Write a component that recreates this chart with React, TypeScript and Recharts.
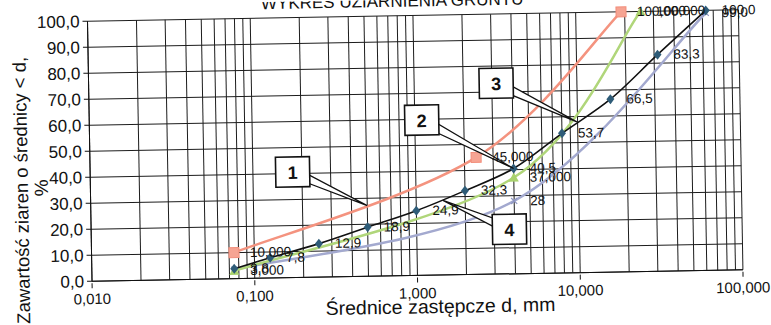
import React from 'react';
import { LineChart, Line, XAxis, YAxis, CartesianGrid, LabelList, ReferenceDot } from 'recharts';

// sieve sizes (mm) and passing (%)
const redSizes = [0.075, 2.36, 19];
const redPass = [10, 45, 100];
const redLabels = ['10,000', '45,000', '100,000'];

const greenSizes = [0.075, 4, 25];
const greenPass = [3, 37, 100];
const greenLabels = ['3,000', '37,000', '100,000'];

const blackSizes = [0.075, 0.125, 0.25, 0.5, 1, 2, 4, 8, 16, 31.5, 63];
const blackPass = [3.8, 7.8, 12.9, 18.9, 24.9, 32.3, 40.5, 53.7, 66.5, 83.3, 100];

const lavSizes = [0.075, 4, 63];
const lavPass = [3.5, 28, 99];
const lavLabels = ['', '28', '99,0'];

const xTicks = [
  0.01, 0.02, 0.03, 0.04, 0.05, 0.06, 0.07, 0.08, 0.09,
  0.1, 0.2, 0.3, 0.4, 0.5, 0.6, 0.7, 0.8, 0.9,
  1, 2, 3, 4, 5, 6, 7, 8, 9,
  10, 20, 30, 40, 50, 60, 70, 80, 90, 100,
];
const xDecades = [0.01, 0.1, 1, 10, 100];
const xDecadeLabels = ['0,010', '0,100', '1,000', '10,000', '100,000'];
const yTicks = [0, 10, 20, 30, 40, 50, 60, 70, 80, 90, 100];

// callouts: number, target point (mm, %)
const calloutNums = ['1', '2', '3', '4'];
const calloutSizes = [0.5, 4, 9.9, 1.46];
const calloutPass = [27.2, 40.5, 58, 28.7];
const calloutOffsets = [[-74, -35], [-91, -50], [-80, -40], [66, 30]];

const FONT = '"Liberation Sans", Arial, sans-serif';

const mk = (s: number[], p: number[], l: string[]) => s.map((d, i) => ({ d, v: p[i], label: l[i] }));
const redData = mk(redSizes, redPass, redLabels);
const greenData = mk(greenSizes, greenPass, greenLabels);
const blackData = mk(blackSizes, blackPass, blackPass.map((v) => v.toFixed(1).replace('.', ',')));
const lavData = mk(lavSizes, lavPass, lavLabels);

// Excel-like smoothed line (Catmull-Rom style bezier)
function excelSmooth(context: any) {
  let pts: number[][] = [];
  return {
    areaStart() {},
    areaEnd() {},
    lineStart() {
      pts = [];
    },
    point(x: number, y: number) {
      pts.push([+x, +y]);
    },
    lineEnd() {
      const n = pts.length;
      if (!n) return;
      context.moveTo(pts[0][0], pts[0][1]);
      for (let i = 0; i < n - 1; i++) {
        const a = pts[Math.max(i - 1, 0)];
        const p0 = pts[i];
        const p1 = pts[i + 1];
        const b = pts[Math.min(i + 2, n - 1)];
        context.bezierCurveTo(
          p0[0] + (p1[0] - a[0]) / 6,
          p0[1] + (p1[1] - a[1]) / 6,
          p1[0] - (b[0] - p0[0]) / 6,
          p1[1] - (b[1] - p0[1]) / 6,
          p1[0],
          p1[1],
        );
      }
    },
  };
}

function XTick(props: any) {
  const { x, y, payload } = props;
  const i = xDecades.indexOf(payload.value);
  if (i < 0) return <g />;
  return (
    <g>
      <line x1={x} x2={x} y1={y} y2={y + 5} stroke="#111" />
      <text x={x} y={y + 21} textAnchor="middle" fontSize={15} fill="#111" fontFamily={FONT}>
        {xDecadeLabels[i]}
      </text>
    </g>
  );
}

const pointLabel = (p: any) =>
  p.value ? (
    <text x={p.x + 16} y={p.y} dominantBaseline="central" fontSize={13.5} fill="#111" fontFamily={FONT}>
      {p.value}
    </text>
  ) : null;

const squareDot = (p: any) => (
  <rect key={p.key} x={p.cx - 5} y={p.cy - 5} width={10} height={10} fill="#f6a493" stroke="#f28e7b" />
);
const triDot = (p: any) => (
  <polygon key={p.key} points={`${p.cx},${p.cy - 5} ${p.cx + 5},${p.cy + 4} ${p.cx - 5},${p.cy + 4}`} fill="#a9d26e" />
);
const diamondDot = (p: any) => (
  <polygon key={p.key} points={`${p.cx},${p.cy - 5} ${p.cx + 4},${p.cy} ${p.cx},${p.cy + 5} ${p.cx - 4},${p.cy}`} fill="#2e5c78" />
);
const crossDot = (p: any) => (
  <path key={p.key} d={`M${p.cx - 3},${p.cy - 3}L${p.cx + 3},${p.cy + 3}M${p.cx + 3},${p.cy - 3}L${p.cx - 3},${p.cy + 3}`} stroke="#8d94c0" strokeWidth={1.2} />
);

function Callout(p: any) {
  const { cx, cy, off, n } = p;
  const bx = cx + off[0];
  const by = cy + off[1];
  const ang = Math.atan2(cy - by, cx - bx);
  const px = -Math.sin(ang) * 5;
  const py = Math.cos(ang) * 5;
  return (
    <g>
      <polygon points={`${cx},${cy} ${bx + px},${by + py} ${bx - px},${by - py}`} fill="#fff" stroke="#111" strokeWidth={1.2} />
      <rect x={bx - 17} y={by - 15} width={34} height={30} fill="#fff" stroke="#111" strokeWidth={1.6} />
      <text x={bx} y={by + 1} textAnchor="middle" dominantBaseline="central" fontSize={18} fontWeight="bold" fill="#111" fontFamily={FONT}>
        {n}
      </text>
    </g>
  );
}

export default function App() {
  return (
    <div
      style={{
        position: 'absolute',
        left: 0,
        top: 0,
        width: 771,
        height: 325,
        background: '#fff',
        transform: 'rotate(-1deg)',
        fontFamily: FONT,
      }}
    >
      <LineChart width={771} height={325} margin={{ top: 16, right: 30, bottom: 0, left: 30 }}>
        <CartesianGrid stroke="#1c1c1c" strokeWidth={1} />
        <XAxis
          dataKey="d"
          type="number"
          scale="log"
          domain={[0.01, 100]}
          allowDataOverflow
          ticks={xTicks}
          interval={0}
          tick={XTick}
          tickLine={false}
          tickSize={0}
          height={49}
          axisLine={{ stroke: '#111' }}
        />
        <YAxis
          type="number"
          domain={[0, 100]}
          ticks={yTicks}
          interval={0}
          width={60}
          tickSize={5}
          tickMargin={3}
          tickLine={{ stroke: '#111' }}
          axisLine={{ stroke: '#111' }}
          tick={{ fontSize: 17, fill: '#111', fontFamily: FONT }}
          tickFormatter={(v: number) => v.toFixed(1).replace('.', ',')}
        />
        <Line data={lavData} dataKey="v" type={excelSmooth as any} stroke="#a3a9cf" strokeWidth={2.5} dot={crossDot} isAnimationActive={false}>
          <LabelList dataKey="label" content={pointLabel} />
        </Line>
        <Line data={greenData} dataKey="v" type={excelSmooth as any} stroke="#b0d67a" strokeWidth={2.5} dot={triDot} isAnimationActive={false}>
          <LabelList dataKey="label" content={pointLabel} />
        </Line>
        <Line data={redData} dataKey="v" type={excelSmooth as any} stroke="#f4937f" strokeWidth={2.5} dot={squareDot} isAnimationActive={false}>
          <LabelList dataKey="label" content={pointLabel} />
        </Line>
        <Line data={blackData} dataKey="v" type={excelSmooth as any} stroke="#111" strokeWidth={1.6} dot={diamondDot} isAnimationActive={false}>
          <LabelList dataKey="label" content={pointLabel} />
        </Line>
        {calloutNums.map((n, i) => (
          <ReferenceDot
            key={n}
            x={calloutSizes[i]}
            y={calloutPass[i]}
            r={0}
            shape={(p: any) => <Callout cx={p.cx} cy={p.cy} off={calloutOffsets[i]} n={n} />}
          />
        ))}
      </LineChart>
      <svg width={771} height={325} style={{ position: 'absolute', left: 0, top: 0, pointerEvents: 'none' }}>
        <text x={395} y={7} textAnchor="middle" fontSize={17} fill="#111" fontFamily={FONT}>
          WYKRES UZIARNIENIA GRUNTU
        </text>
        <text
          x={21}
          y={184}
          transform="rotate(-90 21 184)"
          textAnchor="middle"
          dominantBaseline="central"
          fontSize={18.5}
          fill="#111"
          fontFamily={FONT}
        >
          Zawartość ziaren o średnicy &lt; d,
        </text>
        <text x={41} y={182} transform="rotate(-90 41 182)" textAnchor="middle" dominantBaseline="central" fontSize={19} fill="#111" fontFamily={FONT}>
          %
        </text>
        <text x={438} y={314} textAnchor="middle" fontSize={19.5} fill="#111" fontFamily={FONT}>
          Średnice zastępcze d, mm
        </text>
      </svg>
    </div>
  );
}
